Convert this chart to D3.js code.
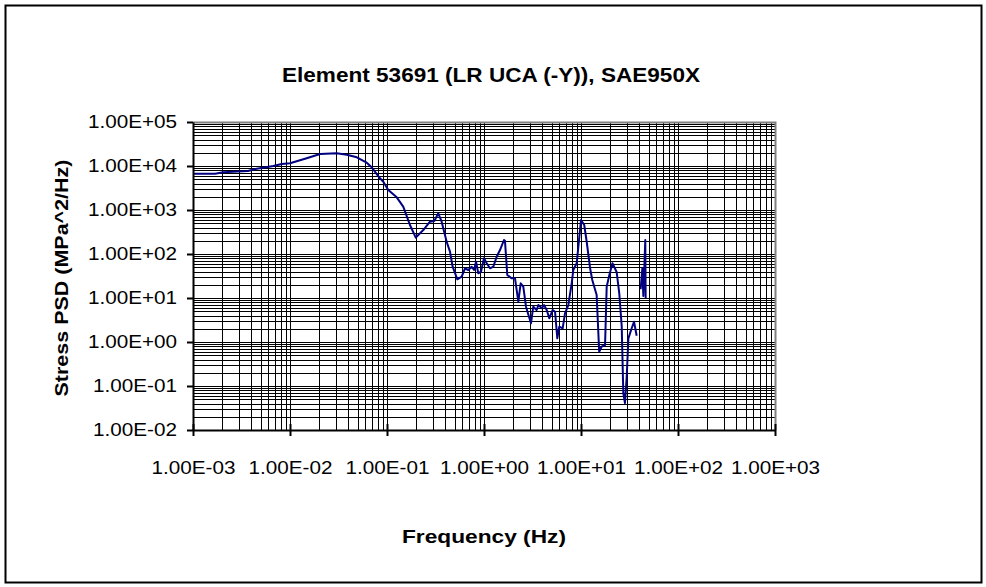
<!DOCTYPE html>
<html>
<head>
<meta charset="utf-8">
<script src="https://cdn.jsdelivr.net/npm/d3@7"></script>
<style>
  html, body { margin: 0; padding: 0; background: #fff; }
  svg { display: block; }
  text { font-family: "Liberation Sans", Arial, sans-serif; fill: #000; }
</style>
</head>
<body>
<svg id="chart" width="986" height="587"></svg>
<script>
// ---- data ----
const titleText = "Element 53691 (LR UCA (-Y)), SAE950X";
const xAxisTitle = "Frequency (Hz)";
const yAxisTitle = "Stress PSD (MPa^2/Hz)";

const xTickValues = [1e-3, 1e-2, 1e-1, 1e0, 1e1, 1e2, 1e3];
const xTickLabels = ["1.00E-03", "1.00E-02", "1.00E-01", "1.00E+00", "1.00E+01", "1.00E+02", "1.00E+03"];
const yTickValues = [1e-2, 1e-1, 1e0, 1e1, 1e2, 1e3, 1e4, 1e5];
const yTickLabels = ["1.00E-02", "1.00E-01", "1.00E+00", "1.00E+01", "1.00E+02", "1.00E+03", "1.00E+04", "1.00E+05"];

// frequency (Hz)
const frequency = [
  0.001, 0.00169, 0.00205, 0.00369, 0.00454, 0.00673, 0.0082, 0.0100, 0.01486, 0.0204,
  0.0303, 0.0385, 0.0488, 0.0618, 0.0695, 0.0847, 0.0916, 0.1031, 0.126, 0.147,
  0.1725, 0.198, 0.2366, 0.2773, 0.3076, 0.338, 0.366, 0.412, 0.446, 0.475,
  0.531, 0.589, 0.637, 0.689, 0.746, 0.789, 0.828, 0.873, 0.931, 1.000,
  1.066, 1.153, 1.247, 1.352, 1.462, 1.607, 1.645, 1.738, 1.931, 2.088,
  2.258, 2.389, 2.541, 2.71, 3.05, 3.22, 3.49, 3.63, 3.94, 4.16,
  4.43, 4.71, 5.11, 5.40, 5.70, 5.97, 6.47, 6.84, 7.40, 8.02,
  8.33, 9.03, 10.0, 10.8, 11.45, 12.4, 13.07, 14.5, 15.4, 16.3,
  17.7, 18.4, 19.6, 21.1, 23.3, 24.8, 26.3, 27.3, 28.4, 29.6,
  30.8, 33.3, 35.2, 37.5, 39.3, 41.2, 42.9, 43.9, 44.9, 46.0, 46.4
];
// stress PSD (MPa^2/Hz); null = gap in the line
const psd = [
  6680, 6680, 7190, 7700, 8690, 10000, 11100, 11500, 15000, 18700,
  19400, 18100, 15800, 11900, 9340, 5250, 4400, 2850, 1940, 1190,
  456, 235, 351, 542, 562, 841, 542, 190, 113, 51.4,
  26.6, 30.5, 47.3, 43.3, 51.4, 43.3, 66.8, 36.4, 39.6, 79.8,
  61.5, 47.3, 51.4, 86.9, 123, 208, 200, 33.3, 28.0, 28.0,
  8.24, 21.6, 18.1, 6.34, 2.66, 6.34, 5.34, 6.93, 5.83, 6.93,
  5.34, 3.46, 5.34, 4.88, 1.21, 2.23, 2.05, 4.49, 6.93, 21.6,
  43.3, 61.5, 593, 456, 190, 48.1, 25.6, 11.7, 0.602, 0.782,
  0.855, 18.1, 33.3, 61.5, 39.0, 12.8, 2.23, 0.0693, 0.0411, 0.163,
  1.21, 2.05, 2.89, 1.39, null, 15.8, 48.1, 11.1, 43.3, 208, 10.0
];

// ---- layout ----
const svg = d3.select("#chart");
const plot = { left: 193, right: 775, top: 122, bottom: 430 };

const x = d3.scaleLog().domain([1e-3, 1e3]).range([plot.left, plot.right]);
const y = d3.scaleLog().domain([1e-2, 1e5]).range([plot.bottom, plot.top]);

// outer frame
svg.append("rect")
  .attr("x", 5.5).attr("y", 5.5).attr("width", 976).attr("height", 577)
  .attr("fill", "#fff").attr("stroke", "#000").attr("stroke-width", 2);

// plot background
svg.append("rect")
  .attr("x", plot.left).attr("y", plot.top)
  .attr("width", plot.right - plot.left).attr("height", plot.bottom - plot.top)
  .attr("fill", "#fff");

// grid
const grid = svg.append("g").attr("stroke", "#000").attr("stroke-width", 1).attr("shape-rendering", "crispEdges");
grid.selectAll("line.v").data(x.ticks()).join("line")
  .attr("class", "v")
  .attr("x1", d => Math.round(x(d)) + 0.5).attr("x2", d => Math.round(x(d)) + 0.5)
  .attr("y1", plot.top).attr("y2", plot.bottom);
grid.selectAll("line.h").data(y.ticks()).join("line")
  .attr("class", "h")
  .attr("y1", d => Math.round(y(d)) + 0.5).attr("y2", d => Math.round(y(d)) + 0.5)
  .attr("x1", plot.left).attr("x2", plot.right);

// top & right plot borders (grey)
svg.append("path")
  .attr("d", `M${plot.left},${plot.top + 0.5}H${plot.right + 0.5}V${plot.bottom}`)
  .attr("fill", "none").attr("stroke", "#808080").attr("stroke-width", 2);

// data line
const line = d3.line()
  .defined((d, i) => psd[i] !== null)
  .x((d, i) => x(frequency[i]))
  .y((d, i) => y(psd[i]));
svg.append("path")
  .datum(frequency)
  .attr("d", line)
  .attr("fill", "none")
  .attr("stroke", "#000080")
  .attr("stroke-width", 2)
  .attr("stroke-linejoin", "round");

// axes
const sx = 1.15;
const xAxis = d3.axisBottom(x)
  .tickValues(xTickValues)
  .tickFormat((d, i) => xTickLabels[i])
  .tickSizeInner(6).tickSizeOuter(0).tickPadding(25);
const gx = svg.append("g").attr("transform", `translate(0,${plot.bottom})`).call(xAxis);
gx.select(".domain").attr("stroke", "#000").attr("stroke-width", 2);
gx.selectAll(".tick line").attr("stroke", "#000").attr("stroke-width", 2).attr("y1", -6);
gx.selectAll(".tick text")
  .attr("font-size", 18).attr("font-family", "Liberation Sans, Arial, sans-serif")
  .attr("transform", `scale(${sx},1)`)
  .attr("x", 0);

const yAxis = d3.axisLeft(y)
  .tickValues(yTickValues)
  .tickFormat((d, i) => yTickLabels[i])
  .tickSizeInner(6).tickSizeOuter(0).tickPadding(16);
const gy = svg.append("g").attr("transform", `translate(${plot.left},0)`).call(yAxis);
gy.select(".domain").attr("stroke", "#000").attr("stroke-width", 2);
gy.selectAll(".tick line").attr("stroke", "#000").attr("stroke-width", 2);
gy.selectAll(".tick text")
  .attr("font-size", 18).attr("font-family", "Liberation Sans, Arial, sans-serif")
  .attr("transform", `scale(${sx},1)`)
  .attr("x", -16 / sx);

// titles
svg.append("text")
  .attr("x", 491).attr("y", 82)
  .attr("text-anchor", "middle")
  .attr("font-size", 20).attr("font-weight", "bold")
  .attr("textLength", 418).attr("lengthAdjust", "spacingAndGlyphs")
  .text(titleText);

svg.append("text")
  .attr("x", 484).attr("y", 543)
  .attr("text-anchor", "middle")
  .attr("font-size", 18).attr("font-weight", "bold")
  .attr("textLength", 164).attr("lengthAdjust", "spacingAndGlyphs")
  .text(xAxisTitle);

svg.append("text")
  .attr("transform", "translate(68,278) rotate(-90)")
  .attr("text-anchor", "middle")
  .attr("font-size", 18.5).attr("font-weight", "bold")
  .attr("textLength", 237).attr("lengthAdjust", "spacingAndGlyphs")
  .text(yAxisTitle);
</script>
</body>
</html>
